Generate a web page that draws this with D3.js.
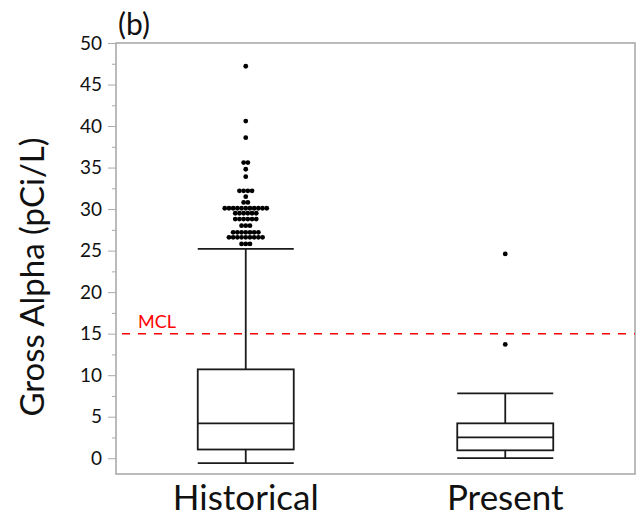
<!DOCTYPE html>
<html>
<head>
<meta charset="utf-8">
<script src="https://cdn.jsdelivr.net/npm/d3@7"></script>
<style>
  body { margin: 0; background: #fff; }
  svg { display: block; }
  text { font-family: Lato, "Open Sans", sans-serif; }
</style>
</head>
<body>
<svg id="chart" width="639" height="518"></svg>
<script>
// box plot data
var categories = ["Historical", "Present"];
var lowerWhisker = [-0.6, 0];
var q1 = [1.05, 0.95];
var median = [4.2, 2.5];
var q3 = [10.7, 4.2];
var upperWhisker = [25.2, 7.8];
var historicalOutliers = [47.2, 40.6, 38.6, 35.6, 35.6, 34.8, 33.9,
  32.2, 32.2, 32.2, 32.2, 31.5, 30.8, 30.8,
  30.1, 30.1, 30.1, 30.1, 30.1, 30.1, 30.1, 30.1, 30.1, 30.1, 30.1,
  29.5, 29.5, 29.5, 29.5, 29.5, 29.5,
  28.8, 28.8, 28.8, 28.8, 28.8, 28.8,
  28.0, 28.0, 28.0,
  27.2, 27.2, 27.2, 27.2, 27.2, 27.2, 27.2,
  26.6, 26.6, 26.6, 26.6, 26.6, 26.6, 26.6, 26.6, 26.6,
  25.8, 25.8, 25.8];
var presentOutliers = [24.6, 13.7];
var yTicks = [0, 5, 10, 15, 20, 25, 30, 35, 40, 45, 50];
var yMinorTicks = [2.5, 7.5, 12.5, 17.5, 22.5, 27.5, 32.5, 37.5, 42.5, 47.5];
var mclValue = 15;

var svg = d3.select("#chart");
var pLeft = 116, pRight = 635, pTop = 43, pBottom = 474;

var x = d3.scalePoint().domain(categories).range([pLeft, pRight]).padding(0.5);
var y = d3.scaleLinear().domain([-1.9, 50]).range([pBottom, pTop]);
var boxW = 96;

// frame
svg.append("rect")
  .attr("x", pLeft).attr("y", pTop)
  .attr("width", pRight - pLeft).attr("height", pBottom - pTop)
  .attr("fill", "none").attr("stroke", "#ababab").attr("stroke-width", 1.6);

// y axis
var yAxis = d3.axisLeft(y).tickValues(yTicks).tickSize(8).tickPadding(6);
var ga = svg.append("g").attr("transform", "translate(" + pLeft + ",0)").call(yAxis);
ga.select(".domain").remove();
ga.selectAll("line").attr("stroke", "#ababab");
ga.selectAll("text").attr("font-size", 19).attr("fill", "#111")
  .style("font-family", "Lato, 'Open Sans', sans-serif");
var gm = svg.append("g").attr("transform", "translate(" + pLeft + ",0)")
  .call(d3.axisLeft(y).tickValues(yMinorTicks).tickSize(4).tickFormat(""));
gm.select(".domain").remove();
gm.selectAll("line").attr("stroke", "#ababab");

// MCL line
svg.append("line")
  .attr("x1", pLeft + 6).attr("x2", pRight)
  .attr("y1", y(mclValue)).attr("y2", y(mclValue))
  .attr("stroke", "#ff0000").attr("stroke-width", 1.5)
  .attr("stroke-dasharray", "8,8");
svg.append("text")
  .attr("x", pLeft + 22).attr("y", y(mclValue) - 6)
  .attr("font-size", 18).attr("fill", "#ff0000")
  .text("MCL");

// boxes
var g = svg.append("g");
categories.forEach(function(c, i) {
  var cx = x(c);
  // whiskers
  g.append("line").attr("x1", cx).attr("x2", cx)
    .attr("y1", y(q3[i])).attr("y2", y(upperWhisker[i]))
    .attr("stroke", "#1a1a1a").attr("stroke-width", 1.8);
  g.append("line").attr("x1", cx).attr("x2", cx)
    .attr("y1", y(q1[i])).attr("y2", y(lowerWhisker[i]))
    .attr("stroke", "#1a1a1a").attr("stroke-width", 1.8);
  [upperWhisker[i], lowerWhisker[i]].forEach(function(v) {
    g.append("line").attr("x1", cx - boxW / 2).attr("x2", cx + boxW / 2)
      .attr("y1", y(v)).attr("y2", y(v))
      .attr("stroke", "#1a1a1a").attr("stroke-width", 1.8);
  });
  g.append("rect")
    .attr("x", cx - boxW / 2).attr("y", y(q3[i]))
    .attr("width", boxW).attr("height", y(q1[i]) - y(q3[i]))
    .attr("fill", "none").attr("stroke", "#1a1a1a").attr("stroke-width", 1.8);
  g.append("line").attr("x1", cx - boxW / 2).attr("x2", cx + boxW / 2)
    .attr("y1", y(median[i])).attr("y2", y(median[i]))
    .attr("stroke", "#1a1a1a").attr("stroke-width", 1.8);
});

// outliers, stacked side by side when values repeat
function drawOutliers(vals, cat) {
  var groups = d3.groups(vals, function(d) { return d; });
  var sp = 4.2;
  groups.forEach(function(gr) {
    var n = gr[1].length;
    gr[1].forEach(function(v, j) {
      g.append("circle")
        .attr("cx", x(cat) + (j - (n - 1) / 2) * sp)
        .attr("cy", y(v))
        .attr("r", 2.4)
        .attr("fill", "#000");
    });
  });
}
drawOutliers(historicalOutliers, "Historical");
drawOutliers(presentOutliers, "Present");

// category labels
svg.selectAll(".cat").data(categories).enter().append("text")
  .attr("class", "cat")
  .attr("x", function(d) { return x(d); })
  .attr("y", 510)
  .attr("text-anchor", "middle")
  .attr("font-size", 35).attr("fill", "#111")
  .text(function(d) { return d; });

// y title
svg.append("text")
  .attr("transform", "translate(44,277) rotate(-90)")
  .attr("text-anchor", "middle")
  .attr("font-size", 33).attr("fill", "#111")
  .text("Gross Alpha (pCi/L)");

// panel label
svg.append("text")
  .attr("x", 118).attr("y", 35)
  .attr("font-size", 30).attr("fill", "#111")
  .text("(b)");
</script>
</body>
</html>
